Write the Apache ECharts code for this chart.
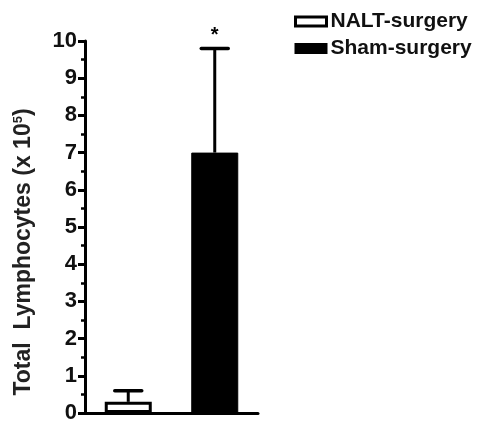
<!DOCTYPE html>
<html><head><meta charset="utf-8">
<script src="https://cdn.jsdelivr.net/npm/echarts@6/dist/echarts.min.js"></script>
<style>html,body{margin:0;padding:0;background:#fff}#c{width:482px;height:424px}</style>
</head><body><div id="c"></div>
<script>
const categories = ['NALT-surgery', 'Sham-surgery'];
const seriesNames = ['NALT-surgery', 'Sham-surgery'];
const means = [0.3, 7.0];
const errors = [0.3, 2.8];
const significance = ['', '*'];
const yTicks = [0,1,2,3,4,5,6,7,8,9,10];

const chart = echarts.init(document.getElementById('c'), null, {renderer:'canvas'});
const font = 'Liberation Sans, Arial, sans-serif';

function errItem(params, api) {
  const i = params.dataIndex;
  const x = api.value(0), lo = api.value(1), hi = api.value(2);
  const pLo = api.coord([x, lo]);
  const pHi = api.coord([x, hi]);
  const half = 13.5;
  const children = [
    {type:'line', shape:{x1:pLo[0], y1:pLo[1], x2:pHi[0], y2:pHi[1]}, style:{stroke:'#000', lineWidth:3}},
    {type:'line', shape:{x1:pHi[0]-half, y1:pHi[1], x2:pHi[0]+half, y2:pHi[1]}, style:{stroke:'#000', lineWidth:3.5, lineCap:'round'}}
  ];
  const s = significance[i];
  if (s) children.push({type:'text', style:{text:s, x:pHi[0], y:pHi[1]-3, align:'center', verticalAlign:'bottom', font:'bold 20px ' + font, fill:'#000'}});
  return {type:'group', children};
}

chart.setOption({
  animation:false,
  grid:{left:85, right:224, top:41, bottom:5, containLabel:false},
  legend:{
    orient:'vertical', left:289, top:6, itemGap:6, itemWidth:31, itemHeight:9,
    data:[
      {name:seriesNames[0], icon:'rect', itemStyle:{color:'#fff', borderColor:'#000', borderWidth:3}},
      {name:seriesNames[1], icon:'rect', itemStyle:{color:'#000'}}
    ],
    textStyle:{fontFamily:font, fontWeight:'bold', fontSize:21, color:'#111', padding:[0,0,0,-1]}
  },
  xAxis:{
    type:'category', data:categories,
    axisLine:{lineStyle:{color:'#000', width:3}},
    axisTick:{show:false}, axisLabel:{show:false}, splitLine:{show:false}
  },
  yAxis:{
    type:'value', min:0, max:10, interval:1,
    name:'{a|Total  Lymphocytes (x 10}{s|5}{a|)}', nameLocation:'middle', nameGap:50, nameRotate:90,
    nameTextStyle:{padding:[0,50,0,0], rich:{a:{fontFamily:font, fontWeight:'bold', fontSize:23, color:'#222'}, s:{fontFamily:font, fontWeight:'bold', fontSize:13, color:'#222', verticalAlign:'top', padding:[0,0,10,0]}}},
    axisLine:{show:true, lineStyle:{color:'#000', width:3}},
    axisTick:{show:true, length:7, lineStyle:{color:'#000', width:3}},
    minorTick:{show:true, splitNumber:2, length:4, lineStyle:{color:'#000', width:2.5}},
    axisLabel:{fontFamily:font, fontWeight:'bold', fontSize:22, color:'#111', margin:8,
      formatter:v => yTicks.includes(v) ? String(v) : ''},
    splitLine:{show:false}
  },
  series:[
    {name:seriesNames[0], type:'bar', barWidth:47, barGap:'-100%',
     data:[means[0], '-'],
     itemStyle:{color:'#fff', borderColor:'#000', borderWidth:3}},
    {name:seriesNames[1], type:'bar', barWidth:47, barGap:'-100%',
     data:['-', means[1]],
     itemStyle:{color:'#000', borderColor:'#000', borderWidth:1}},
    {type:'custom', renderItem:errItem, z:10,
     data:means.map((m,i)=>[i, m, m+errors[i]])}
  ]
});
</script></body></html>
